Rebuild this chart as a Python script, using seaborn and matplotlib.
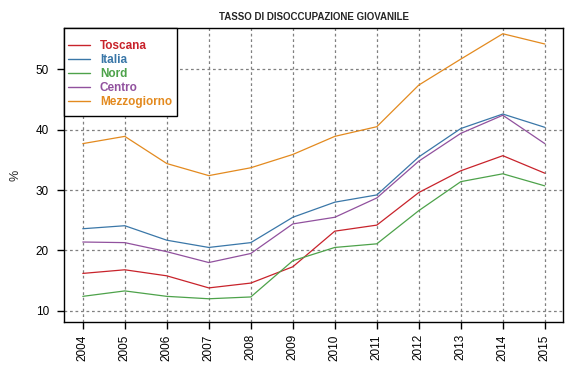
import matplotlib
matplotlib.use("Agg")
import matplotlib.pyplot as plt
from matplotlib.patches import Rectangle
import seaborn as sns
import pandas as pd

years = [2004, 2005, 2006, 2007, 2008, 2009, 2010, 2011, 2012, 2013, 2014, 2015]
toscana = [16.2, 16.8, 15.8, 13.8, 14.6, 17.3, 23.2, 24.2, 29.6, 33.2, 35.7, 32.8]
italia = [23.6, 24.1, 21.7, 20.5, 21.3, 25.5, 28.0, 29.2, 35.5, 40.2, 42.6, 40.4]
nord = [12.4, 13.3, 12.4, 12.0, 12.3, 18.3, 20.5, 21.1, 26.6, 31.4, 32.7, 30.7]
centro = [21.4, 21.3, 19.8, 18.0, 19.5, 24.4, 25.5, 28.7, 34.8, 39.4, 42.4, 37.7]
mezzogiorno = [37.7, 38.9, 34.4, 32.4, 33.7, 35.9, 38.9, 40.5, 47.4, 51.7, 55.9, 54.2]
series_names = ["Toscana", "Italia", "Nord", "Centro", "Mezzogiorno"]
colors = ["#C8232B", "#3A77A8", "#4DA24A", "#91519E", "#E38A1F"]
yticks = [10, 20, 30, 40, 50]

values = [toscana, italia, nord, centro, mezzogiorno]
rows = []
for name, vals in zip(series_names, values):
    for y, v in zip(years, vals):
        rows.append({"anno": y, "valore": v, "area": name})
df = pd.DataFrame(rows)

sns.set_style("white")
plt.rcParams['font.family'] = ['Liberation Sans', 'DejaVu Sans']

fig = plt.figure(figsize=(5.71, 3.80), dpi=100)
ax = fig.add_axes([0.1126, 0.1534, 0.8739, 0.7721])

sns.lineplot(data=df, x="anno", y="valore", hue="area", palette=dict(zip(series_names, colors)),
             hue_order=series_names, linewidth=0.9, ax=ax, legend=False)

ax.set_xlim(2003.56, 2015.44)
ax.set_ylim(8.2, 56.8)
ax.set_xticks(years)
ax.set_xticklabels([str(y) for y in years], rotation=90, fontsize=8.5)
ax.set_yticks(yticks)
ax.set_yticklabels([str(t) for t in yticks], fontsize=8.5)
ax.grid(True, color="#808080", linestyle=(0, (2.2, 2.2)), linewidth=0.9)
ax.set_axisbelow(True)
for s in ax.spines.values():
    s.set_visible(True)
    s.set_color("black")
    s.set_linewidth(1.0)
ax.tick_params(axis="both", direction="out", length=5, width=1, color="black", labelcolor="black",
               bottom=True, left=True)
ax.tick_params(axis="y", pad=6)
ax.tick_params(axis="x", pad=4)
ax.set_xlabel("")
ax.set_ylabel("%", fontsize=9, labelpad=10)
ax.set_title("TASSO DI DISOCCUPAZIONE GIOVANILE", fontsize=7, fontweight="bold", pad=6)

# legend box (white, black border) in the top-left corner
ax.add_patch(Rectangle((0, 0.701), 0.2259, 0.299, transform=ax.transAxes, facecolor="white",
                       edgecolor="black", linewidth=1.0, zorder=4.5, clip_on=False))
handles = [plt.Line2D([0], [0], color=c, linewidth=1) for c in colors]
leg = ax.legend(handles, series_names, loc="upper left", bbox_to_anchor=(0.0074, 0.96), frameon=False,
                borderaxespad=0, borderpad=0, fontsize=8.5, handlelength=1.85, handletextpad=0.85,
                labelspacing=0.17)
leg.set_zorder(5)
for txt, c in zip(leg.get_texts(), colors):
    txt.set_color(c)
    txt.set_fontweight("bold")

fig.savefig("out.png", dpi=100)
